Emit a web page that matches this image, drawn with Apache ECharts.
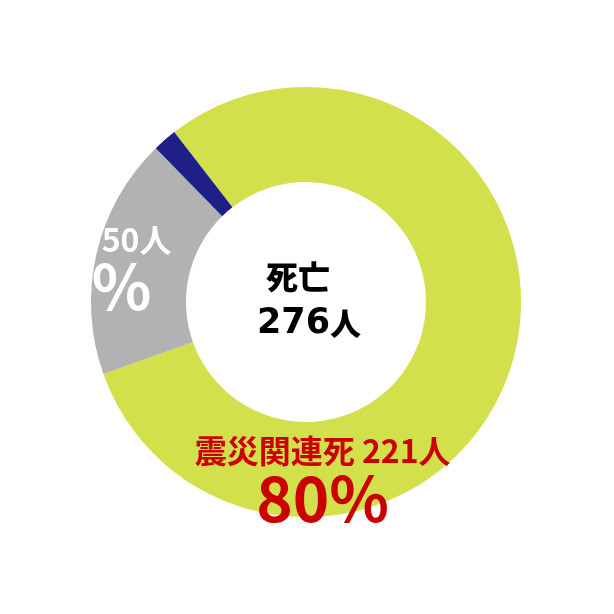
<!DOCTYPE html>
<html>
<head>
<meta charset="utf-8">
<script src="https://cdn.jsdelivr.net/npm/echarts@6/dist/echarts.min.js"></script>
<style>
  html, body { margin: 0; padding: 0; background: #fff; }
  #chart { width: 614px; height: 614px; }
</style>
</head>
<body>
<div id="chart"></div>
<script>
// 熊本地震 死亡者の内訳
const categories = ['震災関連死', '直接死', '豪雨災害関連死']
const counts = [221, 50, 5]
const colors = ['#d1e04b', '#b2b2b2', '#1e2088']
const labelColors = ['#cc0000', '#ffffff', '#ffffff']
const total = counts.reduce((s, v) => s + v, 0)

const myChart = echarts.init(document.getElementById('chart'))

// ラベルの位置ずらし (inside の位置から)
const labelShift = [
    [-147, 126],
    [-55, 1],
    [0, 0],
]

myChart.setOption({
    animation: false,
    // 真ん中の合計
    title: {
        text: '{t|死亡}\n{n|' + total + '}{u|人}',
        left: 304,
        top: 295,
        textAlign: 'center',
        textVerticalAlign: 'middle',
        textStyle: {
            color: '#000',
            rich: {
                t: { fontFamily: 'Noto Sans CJK JP', fontWeight: 900, fontSize: 32, lineHeight: 47, padding: [0, 22, 0, 0] },
                n: { fontFamily: 'DejaVu Sans', fontWeight: 'bold', fontSize: 35, lineHeight: 47 },
                u: { fontFamily: 'Noto Sans CJK JP', fontWeight: 900, fontSize: 31, lineHeight: 47 },
            },
        },
    },
    series: [
        {
            type: 'pie',
            center: [306, 302],
            radius: [120, 215],
            startAngle: 127.8,
            clockwise: true,
            percentPrecision: 0,
            avoidLabelOverlap: false,
            label: {
                position: 'inside',
                formatter: '{a|{b} {c}人}\n{b|{d}%}',
                fontFamily: 'Noto Sans CJK JP',
                fontWeight: 'bold',
                rich: {
                    a: { fontSize: 32, lineHeight: 44, fontWeight: 'bold', fontFamily: 'Noto Sans CJK JP' },
                    b: { fontSize: 62, lineHeight: 50, fontWeight: 'bold', fontFamily: 'Noto Sans CJK JP' },
                },
            },
            labelLine: { show: false },
            labelLayout: function (params) {
                const s = labelShift[params.dataIndex]
                return { dx: s[0], dy: s[1] }
            },
            emphasis: { disabled: true },
            data: categories.map((name, i) => ({
                name: name,
                value: counts[i],
                itemStyle: { color: colors[i] },
                label: { show: i < 2, color: labelColors[i] },
            })),
        },
    ],
})
</script>
</body>
</html>
